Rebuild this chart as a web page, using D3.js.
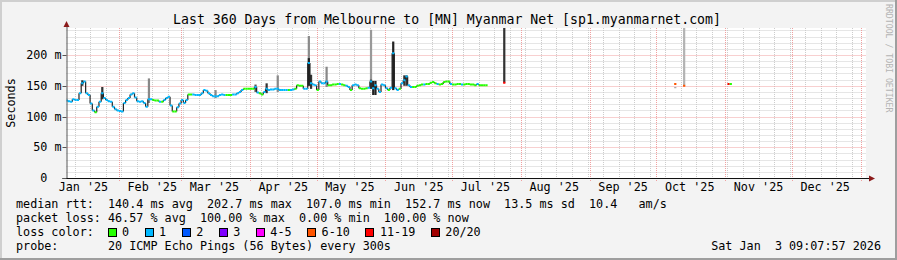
<!DOCTYPE html>
<html><head><meta charset="utf-8">
<script src="https://cdn.jsdelivr.net/npm/d3@7"></script>
<style>
body{margin:0;background:#fff}
svg{display:block}
text{font-family:"DejaVu Sans Mono",monospace;white-space:pre}
</style>
</head><body>
<svg id="c" width="897" height="260"></svg>
<script>
// ---------- data ----------
const titleText = "Last 360 Days from Melbourne to [MN] Myanmar Net [sp1.myanmarnet.com]";
const yTicks = [0, 50, 100, 150, 200];
const yTickLabels = ["0  ", "50 m", "100 m", "150 m", "200 m"];
const startDay = "2025-01-08";
const dates = [
"2025-01-08","2025-01-09","2025-01-10","2025-01-11","2025-01-12","2025-01-13","2025-01-14","2025-01-15","2025-01-16","2025-01-17","2025-01-18","2025-01-19","2025-01-20","2025-01-21","2025-01-22","2025-01-23","2025-01-24","2025-01-25","2025-01-26","2025-01-27","2025-01-28","2025-01-29","2025-01-30","2025-01-31",
"2025-02-01","2025-02-02","2025-02-03","2025-02-04","2025-02-05","2025-02-06","2025-02-07","2025-02-08","2025-02-09","2025-02-10","2025-02-11","2025-02-12","2025-02-13","2025-02-14","2025-02-15","2025-02-16","2025-02-17","2025-02-18","2025-02-19","2025-02-20","2025-02-21","2025-02-22","2025-02-23","2025-02-24","2025-02-25","2025-02-26","2025-02-27","2025-02-28",
"2025-03-01","2025-03-02","2025-03-03","2025-03-04","2025-03-05","2025-03-06","2025-03-07","2025-03-08","2025-03-09","2025-03-10","2025-03-11","2025-03-12","2025-03-13","2025-03-14","2025-03-15","2025-03-16","2025-03-17","2025-03-18","2025-03-19","2025-03-20","2025-03-21","2025-03-22","2025-03-23","2025-03-24","2025-03-25","2025-03-26","2025-03-27","2025-03-28","2025-03-29","2025-03-30","2025-03-31",
"2025-04-01","2025-04-02","2025-04-03","2025-04-04","2025-04-05","2025-04-06","2025-04-07","2025-04-08","2025-04-09","2025-04-10","2025-04-11","2025-04-12","2025-04-13","2025-04-14","2025-04-15","2025-04-16","2025-04-17","2025-04-18","2025-04-19","2025-04-20","2025-04-21","2025-04-22","2025-04-23","2025-04-24","2025-04-25","2025-04-26","2025-04-27","2025-04-28","2025-04-29","2025-04-30",
"2025-05-01","2025-05-02","2025-05-03","2025-05-04","2025-05-05","2025-05-06","2025-05-07","2025-05-08","2025-05-09","2025-05-10","2025-05-11","2025-05-12","2025-05-13","2025-05-14","2025-05-15","2025-05-16","2025-05-17","2025-05-18","2025-05-19","2025-05-20","2025-05-21","2025-05-22","2025-05-23","2025-05-24","2025-05-25","2025-05-26","2025-05-27","2025-05-28","2025-05-29","2025-05-30","2025-05-31",
"2025-06-01","2025-06-02","2025-06-03","2025-06-04","2025-06-05","2025-06-06","2025-06-07","2025-06-08","2025-06-09","2025-06-10","2025-06-11","2025-06-12","2025-06-13","2025-06-14","2025-06-15","2025-06-16","2025-06-17","2025-06-18","2025-06-19","2025-06-20","2025-06-21","2025-06-22","2025-06-23","2025-06-24","2025-06-25","2025-06-26","2025-06-27","2025-06-28","2025-06-29","2025-06-30",
"2025-07-01","2025-07-02","2025-07-03","2025-07-04","2025-07-05","2025-07-06","2025-07-07","2025-07-08","2025-07-09","2025-07-10","2025-07-11","2025-07-12","2025-07-13","2025-07-14","2025-07-15","2025-07-16",
"2025-07-24","2025-10-09","2025-10-13","2025-11-02","2025-11-03"
];
const medianMs = [
126,125,124,128,127,127,138,154,157,138,135,121,110,107,116,124,138,130,127,125,124,116,112,110,
109,108,122,127,130,136,138,131,125,124,125,122,116,128,128,127,126,126,124,124,127,130,132,118,108,108,115,121,
127,122,127,136,136,136,135,135,135,138,143,142,138,135,133,133,133,135,136,135,135,135,135,136,136,138,140,143,145,145,145,
145,145,148,139,138,136,140,145,143,144,144,145,145,143,143,143,143,143,143,144,145,151,150,150,145,145,187,154,152,151,
143,157,154,154,157,151,151,152,152,153,153,152,151,150,148,143,151,152,151,146,145,145,146,147,157,146,151,145,140,152,151,
146,143,147,203,146,143,145,154,159,165,151,148,148,148,150,151,152,152,153,153,155,156,154,153,152,153,156,157,157,153,
152,152,153,153,152,152,153,153,152,152,151,153,151,151,151,151,
155,153,150,153,153
];
// loss class index into lossLabels / lossColors
const lossClass = [
1,1,1,1,1,1,1,1,1,1,1,1,1,0,1,1,1,1,1,1,1,1,1,1,
1,1,1,1,1,1,1,1,1,1,1,1,1,1,1,0,0,0,1,0,1,1,1,1,0,0,1,1,
1,1,1,0,0,1,1,1,1,1,1,1,1,1,1,1,1,1,1,1,0,0,0,1,1,1,1,1,0,0,0,
0,0,1,1,0,0,1,1,1,1,1,1,1,1,1,1,1,0,1,1,0,0,0,0,1,1,1,1,1,1,
0,1,1,1,1,0,0,0,0,0,1,0,0,1,1,0,1,1,1,0,0,0,0,1,1,1,1,1,1,1,1,
1,0,1,1,1,1,0,1,1,1,1,1,0,0,0,0,0,1,0,0,0,0,0,1,0,0,0,0,0,1,
0,0,0,0,1,0,0,0,0,0,0,1,0,0,0,0,
6,5,5,6,0
];
// smoke (spread of the 20 pings) for days with visible spread
const smokeDates = ["2025-01-15","2025-01-24","2025-02-14","2025-03-16","2025-04-03","2025-04-08","2025-04-13","2025-04-27","2025-04-27","2025-04-28","2025-05-05","2025-05-25","2025-05-25","2025-05-26","2025-05-27","2025-06-04","2025-06-09","2025-06-10","2025-07-24","2025-10-09","2025-10-13"];
const smokeLow  = [150,128,122,130,140,138,140,150,150,145,148,145,145,135,135,143,150,150,155,146,150];
const smokeHigh = [159,148,162,143,152,154,167,231,195,168,181,241,160,158,158,222,167,167,260,148,260];
const smokeShade= ["#333","#333","#888","#888","#555","#333","#888","#8a8a8a","#222","#333","#888","#999","#333","#222","#222","#222","#333","#333","#333","#aaa","#b3b3b3"];

const lossLabels = ["0","1","2","3","4-5","6-10","11-19","20/20"];
const lossColors = ["#26ff00","#00b8ff","#0059ff","#7e00ff","#ff00ff","#ff5500","#ff0000","#a10000"];
const rttStats  = ["140.4 ms avg","202.7 ms max","107.0 ms min","152.7 ms now","13.5 ms sd","10.4   am/s"];
const lossStats = ["46.57 % avg","100.00 % max","0.00 % min","100.00 % now"];
const probeText = "20 ICMP Echo Pings (56 Bytes) every 300s";
const stampText = "Sat Jan  3 09:07:57 2026";

// ---------- drawing ----------
const W = 897, H = 260;
const svg = d3.select("#c");
const parse = d3.utcParse("%Y-%m-%d");
const t0 = new Date(Date.UTC(2025,0,8,9,7,57)), t1 = new Date(Date.UTC(2026,0,3,9,7,57));
const L = 66.5, R = 866, T = 28, B = 178;
const x = d3.scaleUtc().domain([t0, t1]).range([L, R]);
const y = d3.scaleLinear().domain([0, 244]).range([B, T]);
const px = v => Math.round(v) + 0.5;

svg.append("rect").attr("width", W).attr("height", H).attr("fill", "#f3f3f3");
// frame
svg.append("rect").attr("x",0).attr("y",0).attr("width",W).attr("height",2).attr("fill","#cfcfcf");
svg.append("rect").attr("x",0).attr("y",0).attr("width",2).attr("height",H).attr("fill","#cfcfcf");
svg.append("rect").attr("x",0).attr("y",H-2).attr("width",W).attr("height",2).attr("fill","#9e9e9e");
svg.append("rect").attr("x",W-2).attr("y",0).attr("width",2).attr("height",H).attr("fill","#9e9e9e");

svg.append("rect").attr("x", L).attr("y", T).attr("width", R - L).attr("height", B - T).attr("fill", "#fff");

svg.append("defs").append("clipPath").attr("id","clip")
  .append("rect").attr("x", L).attr("y", T).attr("width", R - L).attr("height", B - T);

const grid = svg.append("g");
// minor horizontal
d3.range(10, 244, 10).filter(v => v % 50 !== 0).forEach(v => {
  grid.append("line").attr("x1", L).attr("x2", R).attr("y1", px(y(v))).attr("y2", px(y(v)))
    .attr("stroke", "#cccccc").attr("stroke-dasharray", "1,1");
});
// minor vertical (weekly)
d3.utcSunday.range(t0, t1).forEach(d => {
  grid.append("line").attr("x1", px(x(d))).attr("x2", px(x(d))).attr("y1", T).attr("y2", B)
    .attr("stroke", "#cccccc").attr("stroke-dasharray", "1,1");
});
// major horizontal
yTicks.filter(v => v > 0).forEach(v => {
  grid.append("line").attr("x1", L).attr("x2", R).attr("y1", px(y(v))).attr("y2", px(y(v)))
    .attr("stroke", "#f0a0a0").attr("stroke-dasharray", "1,1");
});
// major vertical (months)
const months = d3.utcMonth.range(d3.utcMonth.ceil(t0), t1);
months.forEach(d => {
  grid.append("line").attr("x1", px(x(d))).attr("x2", px(x(d))).attr("y1", T).attr("y2", B + 3)
    .attr("stroke", "#f0a0a0").attr("stroke-dasharray", "1,1");
});

const plot = svg.append("g").attr("clip-path", "url(#clip)");
// smoke
smokeDates.forEach((ds, i) => {
  const d = parse(ds), d2 = d3.utcDay.offset(d, 1);
  plot.append("rect").attr("x", x(d)).attr("width", x(d2) - x(d))
    .attr("y", y(smokeHigh[i])).attr("height", y(smokeLow[i]) - y(smokeHigh[i]))
    .attr("fill", smokeShade[i]);
});
// connectors between consecutive days
const pts = dates.map((ds, i) => ({d: parse(ds), m: medianMs[i], c: lossClass[i]}));
pts.forEach((p, i) => {
  if (i === 0) return;
  const q = pts[i - 1];
  if (+d3.utcDay.offset(q.d, 1) !== +p.d) return;
  plot.append("line").attr("x1", x(p.d)).attr("x2", x(p.d)).attr("y1", y(q.m)).attr("y2", y(p.m))
    .attr("stroke", "#222").attr("stroke-width", 1.2);
});
// median segments
pts.forEach(p => {
  const d2 = d3.utcDay.offset(p.d, 1);
  plot.append("line").attr("x1", x(p.d)).attr("x2", x(d2)).attr("y1", y(p.m)).attr("y2", y(p.m))
    .attr("stroke", lossColors[p.c]).attr("stroke-width", 2);
});

// axes
svg.append("line").attr("x1", px(L) - 0.5).attr("x2", px(L) - 0.5).attr("y1", T - 3).attr("y2", B).attr("stroke", "#555");
svg.append("line").attr("x1", L - 4).attr("x2", 870).attr("y1", px(B)).attr("y2", px(B)).attr("stroke", "#111");
svg.append("path").attr("d", `M${L-3},${T-1}L${L+3},${T-1}L${L},${T-7}Z`).attr("fill", "#8b1a1a");
svg.append("path").attr("d", `M869,${B-2.5}L869,${B+3.5}L875,${B+0.5}Z`).attr("fill", "#8b1a1a");

const fs = "11.76px";
yTicks.forEach((v, i) => {
  svg.append("line").attr("x1", L - 4).attr("x2", L).attr("y1", px(y(v))).attr("y2", px(y(v))).attr("stroke", "#555");
  svg.append("text").attr("x", 61.5).attr("y", y(v) + 4).attr("text-anchor", "end")
    .attr("font-size", fs).attr("fill", "#000").text(yTickLabels[i]);
});
svg.append("text").attr("transform", "translate(15,103) rotate(-90)").attr("text-anchor", "middle")
  .attr("font-size", fs).text("Seconds");

// month labels centered mid-month
months.concat([d3.utcMonth.floor(t0)]).forEach(m => {
  const c = d3.utcDay.offset(m, 15);
  if (c < t0 || c > t1) return;
  svg.append("text").attr("x", x(c)).attr("y", 191).attr("text-anchor", "middle").attr("font-size", fs)
    .text(d3.utcFormat("%b '%y")(m));
});

svg.append("text").attr("x", 447).attr("y", 24).attr("text-anchor", "middle").attr("font-size", "13.2px").text(titleText);
svg.append("text").attr("transform", "translate(886,4) rotate(90)").attr("font-size", "8.2px").attr("fill", "#b4b4b4")
  .text("RRDTOOL / TOBI OETIKER");

// legend
const cw = 7.08, lx = 16;
svg.append("text").attr("x", lx).attr("y", 208).attr("font-size", fs).text("median rtt:  " + rttStats.join("  "));
svg.append("text").attr("x", lx).attr("y", 222).attr("font-size", fs).text("packet loss: " + lossStats.join("  "));
svg.append("text").attr("x", lx).attr("y", 236).attr("font-size", fs).text("loss color:");
let bx = lx + 13 * cw - 0.5;
lossLabels.forEach((lab, i) => {
  svg.append("rect").attr("x", Math.round(bx) + 0.5).attr("y", 228.5).attr("width", 8).attr("height", 8)
    .attr("fill", lossColors[i]).attr("stroke", "#000");
  svg.append("text").attr("x", bx + 14.5).attr("y", 236).attr("font-size", fs).text(lab);
  bx = bx + 14.5 + lab.length * cw + 15.5;
});
svg.append("text").attr("x", lx).attr("y", 250).attr("font-size", fs).text("probe:       " + probeText);
svg.append("text").attr("x", 881).attr("y", 250).attr("text-anchor", "end").attr("font-size", fs).text(stampText);
</script>
</body></html>
